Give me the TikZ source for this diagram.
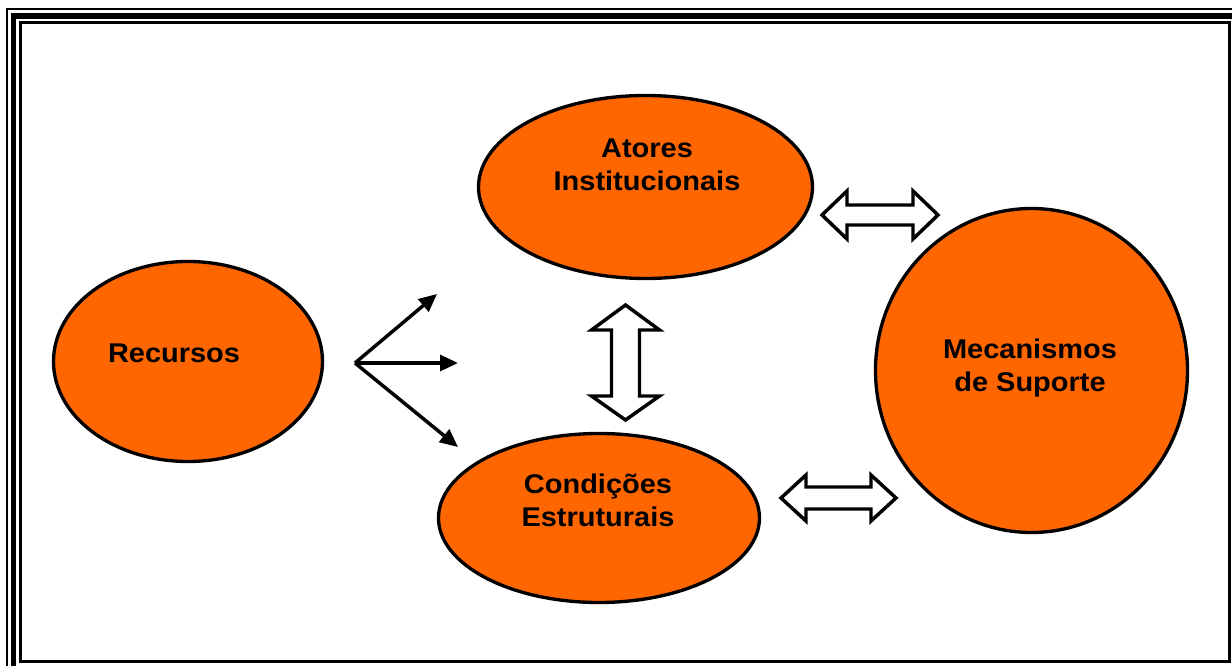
\documentclass[tikz,border=0pt]{standalone}
\usepackage{fontspec}
\setmainfont{Liberation Sans}[FakeStretch=1.07]
\usetikzlibrary{arrows.meta,shapes.geometric}
\definecolor{laranja}{HTML}{FF6600}
\tikzset{
  elipse/.style={ellipse,draw=black,fill=laranja,line width=2.5pt,inner sep=0pt},
  rotulo/.style={align=center,inner sep=0pt,font=\bfseries\fontsize{20.3}{24.75}\selectfont},
  seta/.style={line width=2.6pt,-{Triangle[length=13.5pt,width=12pt]}},
  setadupla/.style={draw=black,fill=white,line width=2.6pt,line join=miter}
}

\begin{document}
\begin{tikzpicture}[x=0.75pt,y=-0.75pt]
\useasboundingbox (0,0) rectangle (1232,666);
% moldura
\begin{scope}
\clip (0,0) rectangle (1232,666);
\draw[line width=1.5pt] (7,9) rectangle (1260,700);
\draw[line width=4pt] (13.5,16) rectangle (1260,700);
\draw[line width=2.25pt] (20.5,23) rectangle (1229,661);
\end{scope}
% elipses
\node[elipse,minimum width=250.5pt,minimum height=137.25pt] (atores) at (645.5,187) {};
\node[elipse,minimum width=201.75pt,minimum height=150pt] (recursos) at (188,361.5) {};
\node[elipse,minimum width=240.75pt,minimum height=126.75pt] (condicoes) at (599,518) {};
\node[elipse,minimum width=234pt,minimum height=243pt] (mecanismos) at (1031.5,370.5) {};
\node[rotulo] (txtAtores) at (647,165) {Atores\\Institucionais};
\node[rotulo] (txtRecursos) at (174,353.5) {Recursos};
\node[rotulo] (txtCondicoes) at (598,500.5) {Condições\\Estruturais};
\node[rotulo] (txtMecanismos) at (1030,368) {Mecanismos\\de Suporte};
% setas simples
\coordinate (origem) at (355,363);
\coordinate (pontaA) at (437,294);
\coordinate (pontaB) at (458,363);
\coordinate (pontaC) at (458,447);
\foreach \p in {pontaA,pontaB,pontaC}
\draw[seta] (origem) -- (\p);
% setas duplas
\draw[setadupla] (822,215) -- (847,191) -- (847,205) -- (913,205) -- (913,191) -- (938,215)
  -- (913,239) -- (913,225) -- (847,225) -- (847,239) -- cycle;
\draw[setadupla] (781,498) -- (806,475) -- (806,487) -- (871,487) -- (871,475) -- (896,498)
  -- (871,521) -- (871,509) -- (806,509) -- (806,521) -- cycle;
\draw[setadupla] (625.5,305) -- (659.5,330) -- (639.5,330) -- (639.5,396) -- (659.5,396) -- (625.5,420)
  -- (591.5,396) -- (611.5,396) -- (611.5,330) -- (591.5,330) -- cycle;
\end{tikzpicture}
\end{document}
